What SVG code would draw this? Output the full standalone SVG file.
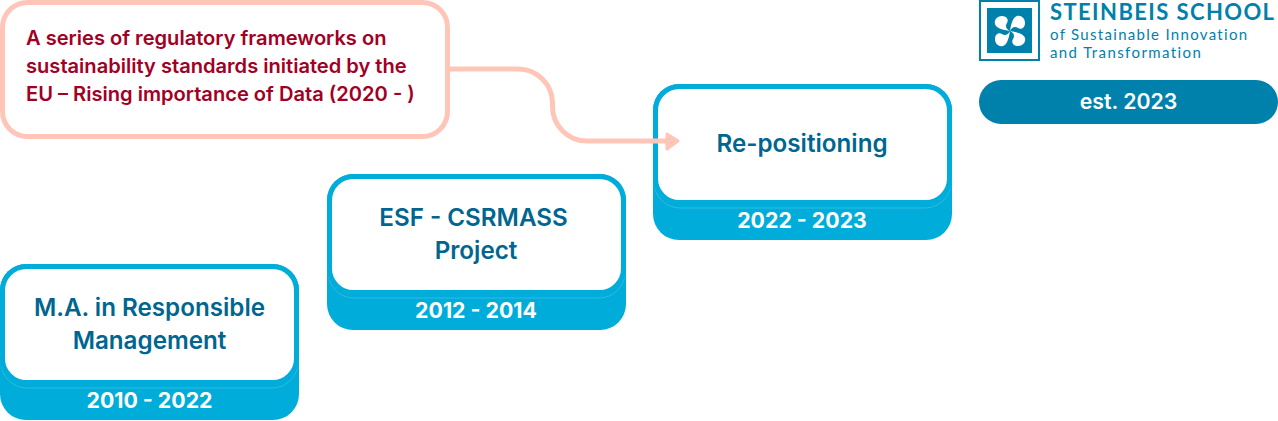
<svg xmlns="http://www.w3.org/2000/svg" width="1278" height="421" viewBox="0 0 1278 421">
<style>
text{font-family:Inter,"Liberation Sans",sans-serif;text-anchor:middle}
.base{fill:#00adda}
.seam{fill:none;stroke:#2fbbdf;stroke-width:1}
.card{fill:#fff;stroke:#00adda;stroke-width:5}
.title{font-size:24.2px;font-weight:600;fill:#00668f}
.year{font-size:21.300px;font-weight:700;fill:#fff}
.note{font-size:20.100px;font-weight:600;fill:#a10024;text-anchor:start}
.logo{font-family:Lato,"Open Sans",sans-serif;text-anchor:start;fill:#0081ab}
</style>
<defs>
<g id="step">
<rect class="base" x="0" y="0" width="299" height="156" rx="26"/>
<rect class="seam" x="1" y="5" width="297" height="119" rx="26"/>
<rect class="card" x="2.500" y="2.500" width="294" height="116" rx="24"/>
</g>
<path id="blade" fill="#fff" d="M0 0C-4 -2 -5 -5 -3 -8C-1 -11 -3 -15 -8 -15C-13 -15 -16 -11 -15 -7C-14 -3 -7 -1 0 0Z"/>
</defs>
<g id="node-regulation">
<rect x="2.500" y="2.500" width="445" height="134" rx="25" fill="#fff" stroke="#ffc6b8" stroke-width="5"/>
<text class="note" x="26" y="45">A series of regulatory frameworks on</text>
<text class="note" x="26" y="73">sustainability standards initiated by the</text>
<text class="note" x="26" y="101">EU – Rising importance of Data (2020 - )</text>
</g>
<g id="node-ma" transform="translate(0,264)">
<use href="#step"/>
<text class="title" x="149.500" y="52">M.A. in Responsible</text>
<text class="title" x="149.500" y="85">Management</text>
<text class="year" x="149.500" y="144">2010 - 2022</text>
</g>
<g id="node-esf" transform="translate(327,174)">
<use href="#step"/>
<text class="title" x="146.500" y="52">ESF - CSRMASS</text>
<text class="title" x="149" y="85">Project</text>
<text class="year" x="149" y="144">2012 - 2014</text>
</g>
<g id="node-repositioning" transform="translate(653,84)">
<use href="#step"/>
<text class="title" x="149" y="68">Re-positioning</text>
<text class="year" x="149" y="144">2022 - 2023</text>
</g>
<g id="node-school">
<rect x="979" y="0" width="61" height="61" fill="#0081ab"/>
<rect x="981" y="2" width="57" height="57" fill="#fff"/>
<rect x="987" y="8" width="45" height="45" fill="#0081ab"/>
<use href="#blade" transform="translate(1010,31)"/>
<use href="#blade" transform="translate(1010,31) rotate(90)"/>
<use href="#blade" transform="translate(1010,31) rotate(180)"/>
<use href="#blade" transform="translate(1010,31) rotate(270)"/>
<text class="logo" x="1050" y="20" font-size="22" font-weight="700" letter-spacing="1.400">STEINBEIS SCHOOL</text>
<text class="logo" x="1050" y="40" font-size="15" letter-spacing="1.300">of Sustainable Innovation</text>
<text class="logo" x="1050" y="58" font-size="15" letter-spacing="1.400">and Transformation</text>
</g>
<g id="node-est">
<rect x="979" y="80" width="299" height="44" rx="22" fill="#0081ab"/>
<text x="1128.500" y="109" font-size="21.300" font-weight="600" fill="#fff">est. 2023</text>
</g>
<g id="connectors">
<path d="M449 69H518A34.500 34.500 0 0 1 552.500 103.500V106.500A34.500 34.500 0 0 0 587 141H668" fill="none" stroke="#ffc6b8" stroke-width="5"/>
<path d="M667 134L678 141L667 149Z" fill="#ffc6b8" stroke="#ffc6b8" stroke-width="3" stroke-linejoin="round"/>
</g>
</svg>
